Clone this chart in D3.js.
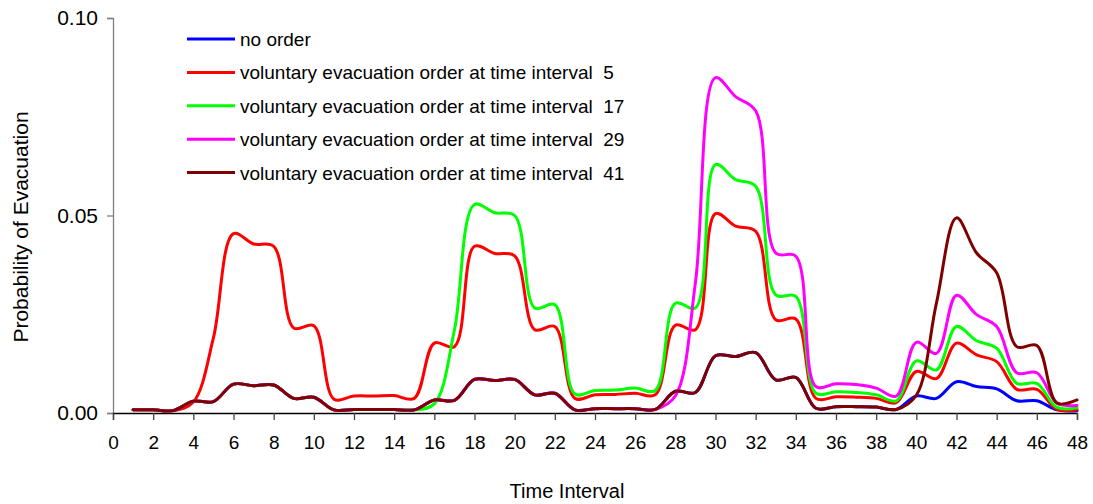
<!DOCTYPE html>
<html>
<head>
<meta charset="utf-8">
<script src="https://cdn.jsdelivr.net/npm/d3@7"></script>
<style>
  html, body { margin: 0; padding: 0; background: #fff; }
  svg { display: block; font-family: "Liberation Sans", Arial, sans-serif; }
</style>
</head>
<body>
<svg id="chart" width="1093" height="504"></svg>
<script>
// Time intervals (x categories)
const timeInterval = [1,2,3,4,5,6,7,8,9,10,11,12,13,14,15,16,17,18,19,20,21,22,23,24,
  25,26,27,28,29,30,31,32,33,34,35,36,37,38,39,40,41,42,43,44,45,46,47,48];

// Probability of evacuation per scenario
const noOrder = [0.0008,0.0008,0.0006,0.0030,0.0029,0.0073,0.0069,0.0071,0.0037,0.0040,
  0.0008,0.0009,0.0009,0.0009,0.0008,0.0033,0.0032,0.0085,0.0082,0.0085,0.0046,0.0050,
  0.0008,0.0011,0.0011,0.0011,0.0009,0.0055,0.0052,0.0145,0.0143,0.0153,0.0084,0.0090,
  0.0012,0.0016,0.0016,0.0015,0.0009,0.0043,0.0037,0.0079,0.0067,0.0061,0.0031,0.0031,
  0.0008,0.0006];

const order5 = [0.0008,0.0008,0.0006,0.0028,0.0190,0.0454,0.0428,0.0422,0.0215,0.0221,
  0.0035,0.0043,0.0043,0.0044,0.0037,0.0177,0.0168,0.0422,0.0404,0.0398,0.0211,0.0219,
  0.0037,0.0046,0.0047,0.0050,0.0046,0.0222,0.0211,0.0505,0.0473,0.0460,0.0236,0.0238,
  0.0037,0.0041,0.0040,0.0037,0.0026,0.0105,0.0087,0.0177,0.0147,0.0130,0.0060,0.0060,
  0.0009,0.0008];

const order17 = [0.0008,0.0008,0.0006,0.0030,0.0029,0.0073,0.0069,0.0071,0.0037,0.0040,
  0.0008,0.0009,0.0009,0.0009,0.0008,0.0023,0.0210,0.0528,0.0507,0.0500,0.0266,0.0274,
  0.0048,0.0057,0.0058,0.0063,0.0057,0.0278,0.0266,0.0629,0.0591,0.0574,0.0299,0.0295,
  0.0050,0.0054,0.0052,0.0046,0.0031,0.0132,0.0109,0.0219,0.0183,0.0164,0.0075,0.0075,
  0.0014,0.0013];

const order29 = [0.0008,0.0008,0.0006,0.0030,0.0029,0.0073,0.0069,0.0071,0.0037,0.0040,
  0.0008,0.0009,0.0009,0.0009,0.0008,0.0033,0.0032,0.0085,0.0082,0.0085,0.0046,0.0050,
  0.0008,0.0011,0.0011,0.0011,0.0009,0.0043,0.0330,0.0849,0.0801,0.0765,0.0405,0.0397,
  0.0067,0.0074,0.0072,0.0063,0.0043,0.0179,0.0151,0.0298,0.0249,0.0219,0.0102,0.0102,
  0.0026,0.0019];

const order41 = [0.0008,0.0008,0.0006,0.0030,0.0029,0.0073,0.0069,0.0071,0.0037,0.0040,
  0.0008,0.0009,0.0009,0.0009,0.0008,0.0033,0.0032,0.0085,0.0082,0.0085,0.0046,0.0050,
  0.0008,0.0011,0.0011,0.0011,0.0009,0.0055,0.0052,0.0145,0.0143,0.0153,0.0084,0.0090,
  0.0012,0.0016,0.0016,0.0015,0.0009,0.0045,0.0278,0.0494,0.0405,0.0355,0.0168,0.0171,
  0.0025,0.0033];

const seriesNames = [
  "no order",
  "voluntary evacuation order at time interval\u00A0\u00A05",
  "voluntary evacuation order at time interval\u00A0\u00A017",
  "voluntary evacuation order at time interval\u00A0\u00A029",
  "voluntary evacuation order at time interval\u00A0\u00A041"
];
const seriesColors = ["#0000FF", "#FF0000", "#00FF00", "#FF00FF", "#800000"];
const seriesValues = [noOrder, order5, order17, order29, order41];

const xTicks = [0,2,4,6,8,10,12,14,16,18,20,22,24,26,28,30,32,34,36,38,40,42,44,46,48];
const yTicks = [0, 0.05, 0.10];

const svg = d3.select("#chart");

const x = d3.scaleLinear().domain([0, 48]).range([113, 1077]);
const y = d3.scaleLinear().domain([0, 0.10]).range([413, 18]);

// Y axis
const yAxis = svg.append("g")
  .attr("transform", `translate(${x(0)},0)`)
  .call(d3.axisLeft(y).tickValues(yTicks).tickFormat(d3.format(".2f")).tickSize(6).tickPadding(9));
yAxis.select(".domain").attr("stroke", "#808080").attr("stroke-width", 1.3);
yAxis.selectAll(".tick line").attr("stroke", "#808080").attr("stroke-width", 1.3);
yAxis.selectAll(".tick text").attr("font-size", 21).attr("fill", "#000")
  .attr("font-family", "Liberation Sans, Arial, sans-serif");

// X axis
const xAxis = svg.append("g")
  .attr("transform", `translate(0,${y(0)})`)
  .call(d3.axisBottom(x).tickValues(xTicks).tickFormat(d3.format("d")).tickSize(7).tickPadding(16));
xAxis.select(".domain").attr("stroke", "#000").attr("stroke-width", 1.3);
xAxis.selectAll(".tick line").attr("stroke", "#444").attr("stroke-width", 1.3);
xAxis.selectAll(".tick text").attr("font-size", 19).attr("fill", "#000")
  .attr("font-family", "Liberation Sans, Arial, sans-serif");

// Axis titles
svg.append("text")
  .attr("x", 567).attr("y", 498)
  .attr("text-anchor", "middle")
  .attr("font-size", 20)
  .text("Time Interval");

svg.append("text")
  .attr("transform", "translate(28,227) rotate(-90)")
  .attr("text-anchor", "middle")
  .attr("font-size", 21)
  .text("Probability of Evacuation");

// Smoothed series lines (centripetal Catmull-Rom keeps peaks from overshooting)
const line = d3.line()
  .x((d, i) => x(timeInterval[i]))
  .y(d => y(d))
  .curve(d3.curveCatmullRom.alpha(0.5));

svg.append("g").selectAll("path")
  .data(seriesValues)
  .join("path")
  .attr("d", d => line(d))
  .attr("fill", "none")
  .attr("stroke", (d, i) => seriesColors[i])
  .attr("stroke-width", 3)
  .attr("stroke-linejoin", "round")
  .attr("stroke-linecap", "round");

// Legend
const legend = svg.append("g");
const rows = legend.selectAll("g")
  .data(seriesNames)
  .join("g")
  .attr("transform", (d, i) => `translate(0,${39 + i * 33.4})`);
rows.append("line")
  .attr("x1", 187).attr("x2", 235)
  .attr("y1", 0).attr("y2", 0)
  .attr("stroke", (d, i) => seriesColors[i])
  .attr("stroke-width", 3);
rows.append("text")
  .attr("x", 240).attr("y", 7)
  .attr("font-size", 19)
  .text(d => d);
</script>
</body>
</html>
